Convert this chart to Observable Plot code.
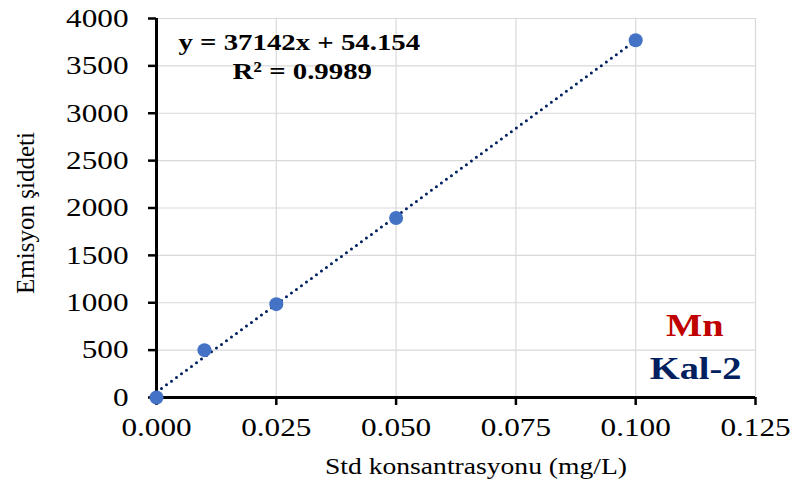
<!DOCTYPE html>
<html>
<head>
<meta charset="utf-8">
<script src="https://cdn.jsdelivr.net/npm/d3@7"></script>
<script src="https://cdn.jsdelivr.net/npm/@observablehq/plot@0.6"></script>
<style>
html,body{margin:0;padding:0;background:#fff;}
svg{display:block;}
</style>
</head>
<body>
<div id="chart"></div>
<script>
const concentrations = [0, 0.01, 0.025, 0.05, 0.1];
const intensities = [0, 500, 985, 1895, 3770];
const xTicks = [0, 0.025, 0.05, 0.075, 0.1, 0.125];
const yTicks = [0, 500, 1000, 1500, 2000, 2500, 3000, 3500, 4000];
const equationText = "y = 37142x + 54.154";
const r2Text = "R² = 0.9989";
const elementLabel = "Mn";
const seriesLabel = "Kal-2";
const xTitle = "Std konsantrasyonu (mg/L)";
const yTitle = "Emisyon şiddeti";

const data = concentrations.map((x, i) => ({x, y: intensities[i]}));
const font = "'Liberation Serif', 'Times New Roman', serif";

const chart = Plot.plot({
  width: 792,
  height: 496,
  marginLeft: 156,
  marginRight: 37,
  marginTop: 18,
  marginBottom: 99,
  style: {fontFamily: font, fontSize: "26px", color: "#000", background: "#fff"},
  x: {domain: [0, 0.125], ticks: xTicks, tickFormat: d3.format(".3f")},
  y: {domain: [0, 4000], ticks: yTicks, tickFormat: d3.format("d")},
  marks: [
    Plot.gridX(xTicks, {stroke: "#d9d9d9", strokeOpacity: 1, strokeWidth: 1.2}),
    Plot.gridY(yTicks, {stroke: "#d9d9d9", strokeOpacity: 1, strokeWidth: 1.2}),
    Plot.axisX(xTicks, {tickSize: 8, tickPadding: 12, strokeWidth: 2.5, label: null, fontSize: 26, tickFormat: d3.format(".3f")}),
    Plot.axisY(yTicks, {tickSize: 8, tickPadding: 20, strokeWidth: 2.5, label: null, fontSize: 26, tickFormat: d3.format("d")}),
    Plot.ruleY([0], {stroke: "#000", strokeWidth: 3}),
    Plot.ruleX([0], {stroke: "#000", strokeWidth: 3}),
    Plot.linearRegressionY(data, {x: "x", y: "y", ci: 0, stroke: "#002060", strokeWidth: 3, strokeDasharray: "0 6.2", strokeLinecap: "round"}),
    Plot.dot(data, {x: "x", y: "y", r: 7, fill: "#4472c4", stroke: "none"}),
    Plot.text([equationText], {frameAnchor: "top-left", dx: 22, dy: 14, fontWeight: "bold", fontSize: 24, textAnchor: "start"}),
    Plot.text([r2Text], {frameAnchor: "top-left", dx: 76, dy: 43, fontWeight: "bold", fontSize: 24, textAnchor: "start"}),
    Plot.text([elementLabel], {frameAnchor: "bottom-right", dx: -32, dy: -62, fontWeight: "bold", fontSize: 32, fill: "#c00000", textAnchor: "end"}),
    Plot.text([seriesLabel], {frameAnchor: "bottom-right", dx: -14, dy: -19, fontWeight: "bold", fontSize: 32, fill: "#002060", textAnchor: "end"}),
    Plot.text([xTitle], {frameAnchor: "bottom", dx: 20, dy: 76, fontSize: 23}),
    Plot.text([yTitle], {frameAnchor: "left", dx: -131, dy: 5, rotate: -90, fontSize: 25, textAnchor: "middle"})
  ]
});
document.getElementById("chart").appendChild(chart);
// the reference's lettering is drawn horizontally widened
d3.select(chart).selectAll("text").each(function() {
  const t = this.getAttribute("transform") || "";
  if (t.includes("rotate")) return;
  const L = this.getComputedTextLength();
  if (L > 0) {
    this.setAttribute("textLength", L * 1.2);
    this.setAttribute("lengthAdjust", "spacingAndGlyphs");
  }
});
</script>
</body>
</html>
